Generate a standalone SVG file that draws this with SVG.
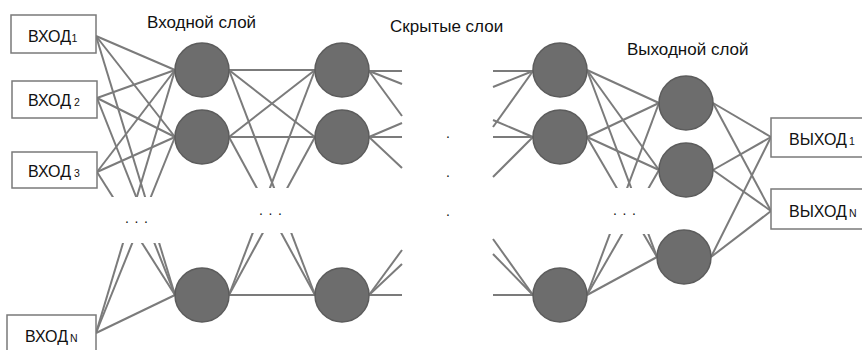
<svg xmlns="http://www.w3.org/2000/svg" width="862" height="350" viewBox="0 0 862 350">
<style>
.box{fill:#fff;stroke:#7a7a7a;stroke-width:1.5}
.n{fill:#6d6d6d;stroke:#5c5c5c;stroke-width:1.5}
.c line{stroke:#7b7b7b;stroke-width:2}
.t{font-family:"Liberation Sans",Arial,sans-serif;fill:#111}
.h{font-size:17px}
.b{font-size:16px}
.s{font-size:10.5px}
.d{font-family:"Liberation Sans",Arial,sans-serif;font-size:14px;fill:#111;letter-spacing:5.6px}
</style>
<defs>
<mask id="gaps" maskUnits="userSpaceOnUse" x="0" y="0" width="862" height="350">
<rect x="0" y="0" width="862" height="350" fill="#fff"/>
<rect x="98" y="197" width="76" height="46" fill="#000"/>
<rect x="230" y="188" width="84" height="45" fill="#000"/>
<rect x="590" y="188" width="66" height="46" fill="#000"/>
</mask>
</defs>
<rect width="862" height="350" fill="#fff"/>
<g id="connectors" class="c" mask="url(#gaps)">
<line x1="96" y1="36" x2="175" y2="70"/>
<line x1="96" y1="36" x2="175" y2="137"/>
<line x1="96" y1="36" x2="175" y2="295"/>
<line x1="97" y1="98" x2="175" y2="70"/>
<line x1="97" y1="98" x2="175" y2="137"/>
<line x1="97" y1="98" x2="175" y2="295"/>
<line x1="97" y1="172" x2="175" y2="70"/>
<line x1="97" y1="172" x2="175" y2="137"/>
<line x1="97" y1="172" x2="175" y2="295"/>
<line x1="96" y1="333" x2="175" y2="70"/>
<line x1="96" y1="333" x2="175" y2="137"/>
<line x1="96" y1="333" x2="175" y2="295"/>
<line x1="229" y1="70" x2="315" y2="70"/>
<line x1="229" y1="70" x2="315" y2="137"/>
<line x1="229" y1="70" x2="315" y2="295"/>
<line x1="229" y1="137" x2="315" y2="70"/>
<line x1="229" y1="137" x2="315" y2="137"/>
<line x1="229" y1="137" x2="315" y2="295"/>
<line x1="229" y1="295" x2="315" y2="70"/>
<line x1="229" y1="295" x2="315" y2="137"/>
<line x1="229" y1="295" x2="315" y2="295"/>
<line x1="369" y1="71" x2="402" y2="71"/>
<line x1="369" y1="71" x2="402" y2="84"/>
<line x1="369" y1="71" x2="402" y2="116"/>
<line x1="369" y1="137" x2="402" y2="123"/>
<line x1="369" y1="137" x2="402" y2="137"/>
<line x1="369" y1="137" x2="402" y2="168"/>
<line x1="369" y1="295" x2="402" y2="250"/>
<line x1="369" y1="295" x2="402" y2="264"/>
<line x1="369" y1="295" x2="402" y2="295"/>
<line x1="493" y1="71" x2="533" y2="71"/>
<line x1="493" y1="87" x2="533" y2="71"/>
<line x1="493" y1="127" x2="533" y2="71"/>
<line x1="493" y1="120" x2="533" y2="137"/>
<line x1="493" y1="137" x2="533" y2="137"/>
<line x1="493" y1="177" x2="533" y2="137"/>
<line x1="493" y1="239" x2="533" y2="295"/>
<line x1="493" y1="254" x2="533" y2="295"/>
<line x1="493" y1="295" x2="533" y2="295"/>
<line x1="587" y1="70" x2="659" y2="103"/>
<line x1="587" y1="70" x2="659" y2="170"/>
<line x1="587" y1="70" x2="657" y2="257"/>
<line x1="587" y1="137" x2="659" y2="103"/>
<line x1="587" y1="137" x2="659" y2="170"/>
<line x1="587" y1="137" x2="657" y2="257"/>
<line x1="587" y1="295" x2="659" y2="103"/>
<line x1="587" y1="295" x2="659" y2="170"/>
<line x1="587" y1="295" x2="657" y2="257"/>
<line x1="713" y1="103" x2="771" y2="137"/>
<line x1="713" y1="103" x2="771" y2="211"/>
<line x1="713" y1="170" x2="771" y2="137"/>
<line x1="713" y1="170" x2="771" y2="211"/>
<line x1="711" y1="257" x2="771" y2="137"/>
<line x1="711" y1="257" x2="771" y2="211"/>
</g>
<g id="in1"><rect class="box" x="11" y="15" width="85" height="38"/><text class="t b" x="28" y="42">ВХОД<tspan class="s" dx="0.5">1</tspan></text></g>
<g id="in2"><rect class="box" x="12" y="81" width="85" height="37"/><text class="t b" x="28" y="106">ВХОД<tspan class="s" dx="3">2</tspan></text></g>
<g id="in3"><rect class="box" x="12" y="152" width="85" height="36"/><text class="t b" x="28" y="177">ВХОД<tspan class="s" dx="3">3</tspan></text></g>
<g id="inN"><rect class="box" x="7" y="315" width="89" height="45"/><text class="t b" x="25" y="342">ВХОД<tspan class="s" dx="2">N</tspan></text></g>
<g id="i1"><circle class="n" cx="202" cy="70" r="27"/></g>
<g id="i2"><circle class="n" cx="202" cy="137" r="27"/></g>
<g id="i3"><circle class="n" cx="202" cy="295" r="27"/></g>
<g id="h1"><circle class="n" cx="342" cy="70" r="27"/></g>
<g id="h2"><circle class="n" cx="342" cy="137" r="27"/></g>
<g id="h3"><circle class="n" cx="342" cy="295" r="27"/></g>
<g id="g1"><circle class="n" cx="560" cy="70" r="27"/></g>
<g id="g2"><circle class="n" cx="560" cy="137" r="27"/></g>
<g id="g3"><circle class="n" cx="560" cy="295" r="27"/></g>
<g id="o1"><circle class="n" cx="686" cy="103" r="27"/></g>
<g id="o2"><circle class="n" cx="686" cy="170" r="27"/></g>
<g id="o3"><circle class="n" cx="684" cy="257" r="27"/></g>
<g id="out1"><rect class="box" x="771" y="118" width="100" height="39"/><text class="t b" x="789" y="145">ВЫХОД<tspan class="s" dx="2">1</tspan></text></g>
<g id="outN"><rect class="box" x="771" y="189" width="100" height="40"/><text class="t b" x="789" y="217">ВЫХОД<tspan class="s" dx="2">N</tspan></text></g>
<g id="labels">
<text class="t h" x="147" y="28">Входной слой</text>
<text class="t h" x="390" y="32">Скрытые слои</text>
<text class="t h" x="627" y="55">Выходной слой</text>
<text class="d" x="125" y="223">...</text>
<text class="d" x="259" y="215">...</text>
<text class="d" x="613" y="215">...</text>
<text class="d" x="446" y="138">.</text>
<text class="d" x="446" y="177">.</text>
<text class="d" x="446" y="216">.</text>
</g>
</svg>
